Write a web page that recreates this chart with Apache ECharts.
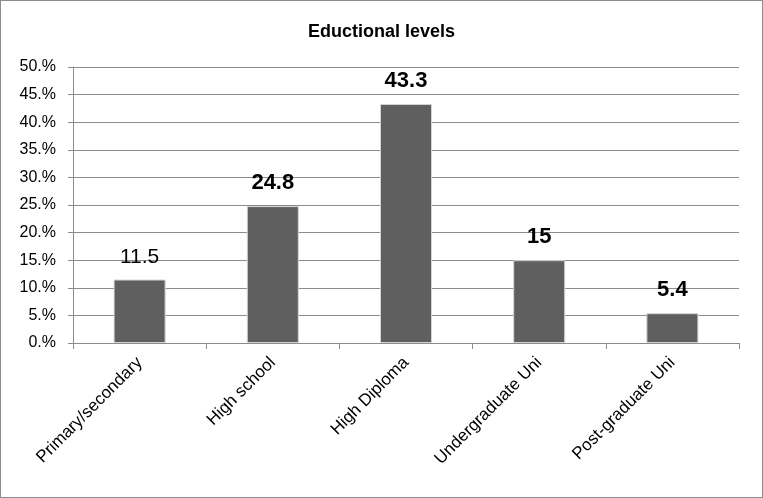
<!DOCTYPE html>
<html>
<head>
<meta charset="utf-8">
<script src="https://cdn.jsdelivr.net/npm/echarts@6/dist/echarts.min.js"></script>
<style>
  html, body { margin: 0; padding: 0; background: #fff; }
  #chart {
    width: 763px;
    height: 498px;
    box-sizing: border-box;
    border: 1px solid #8c8c8c;
  }
</style>
</head>
<body>
<div id="chart"></div>
<script>
const categories = ['Primary/secondary', 'High school', 'High Diploma', 'Undergraduate Uni', 'Post-graduate Uni'];
const values = [11.5, 24.8, 43.3, 15, 5.4];
const boldLabel = [false, true, true, true, true];

const chart = echarts.init(document.getElementById('chart'));

const seriesData = values.map((v, i) => ({
  value: v,
  label: boldLabel[i]
    ? { fontWeight: 'bold', fontFamily: 'Liberation Sans', fontSize: 22 }
    : { fontWeight: 'normal', fontFamily: 'Liberation Sans', fontSize: 21 },
}));

chart.setOption({
  animation: false,
  title: {
    text: 'Eductional levels',
    left: 'center',
    top: 17,
    textStyle: {
      fontFamily: 'Liberation Sans Narrow, Liberation Sans',
      fontWeight: 'bold',
      fontSize: 18,
      color: '#000',
    },
  },
  grid: {
    left: 72,
    right: 23,
    top: 66,
    bottom: 154,
  },
  xAxis: {
    type: 'category',
    data: categories,
    axisLine: { lineStyle: { color: '#8c8c8c' } },
    axisTick: { show: true, length: 6, lineStyle: { color: '#8c8c8c' } },
    axisLabel: {
      rotate: 45,
      interval: 0,
      margin: 17,
      color: '#000',
      fontFamily: 'Liberation Sans',
      fontSize: 17,
    },
  },
  yAxis: {
    type: 'value',
    min: 0,
    max: 50,
    interval: 5,
    axisLine: { show: true, lineStyle: { color: '#8c8c8c' } },
    axisTick: { show: true, length: 5, lineStyle: { color: '#8c8c8c' } },
    splitLine: { show: true, lineStyle: { color: '#8c8c8c', width: 1 } },
    axisLabel: {
      formatter: (v) => v + '.%',
      color: '#000',
      fontFamily: 'Liberation Sans',
      fontSize: 16,
      margin: 17,
    },
  },
  series: [
    {
      type: 'bar',
      data: seriesData,
      barWidth: 52,
      itemStyle: {
        color: '#5f5f5f',
        borderColor: '#d4d4d4',
        borderWidth: 1,
      },
      label: {
        show: true,
        position: 'top',
        distance: 12,
        color: '#000',
      },
    },
  ],
});
</script>
</body>
</html>
